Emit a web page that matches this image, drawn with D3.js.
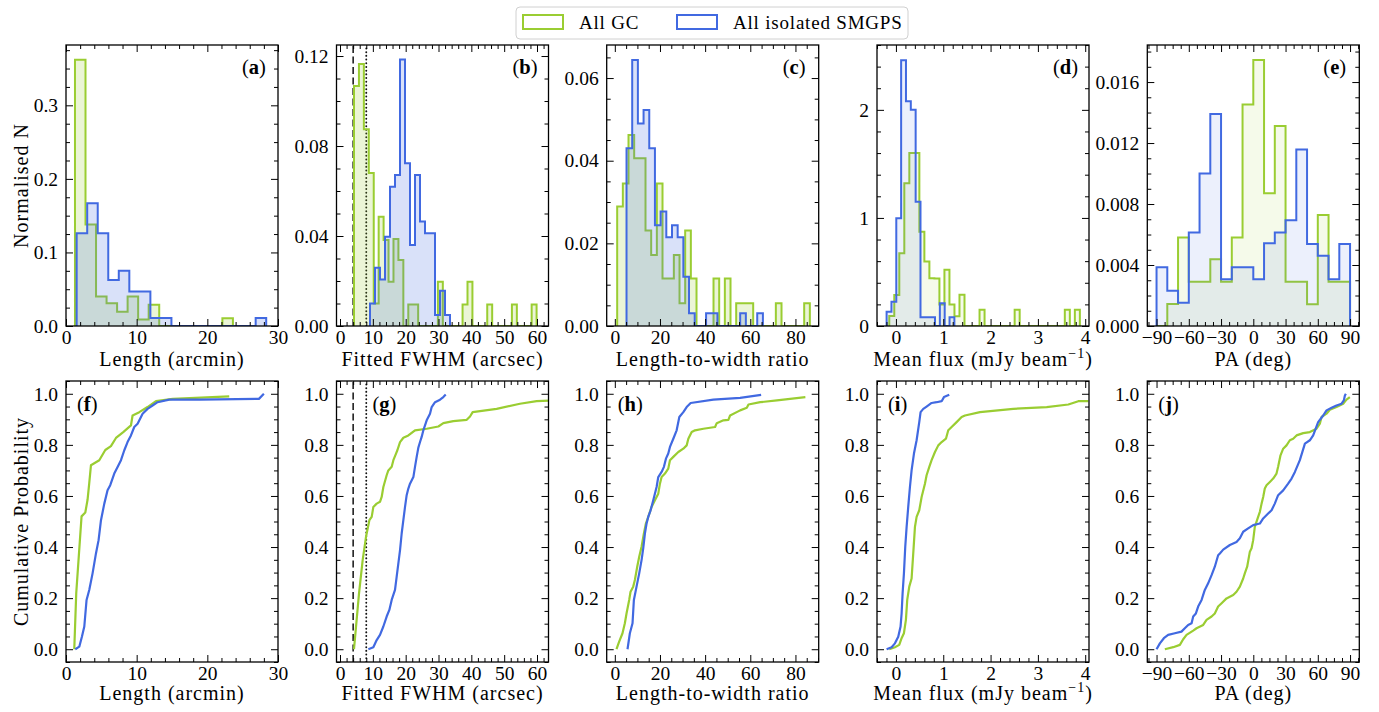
<!DOCTYPE html>
<html>
<head>
<meta charset="utf-8">
<script src="https://cdn.jsdelivr.net/npm/d3@7"></script>
<style>
  body { margin: 0; background: #fff; }
  svg text { font-family: "Liberation Serif", "DejaVu Serif", serif; fill: #000; }
</style>
</head>
<body>
<svg id="fig" width="1379" height="712"></svg>
<script>
// ---------------- data ----------------
const seriesNames = ["All GC", "All isolated SMGPS"];

// Normalised histograms: first bin edge, bin width, bar heights
const lenGC_start = 1.27, lenGC_width = 1.49;
const lenGC_hist = [0.362, 0.138, 0.040, 0.031, 0.0195, 0.040, 0.009, 0.029, 0, 0, 0, 0, 0, 0, 0.0104];
const lenSM_start = 1.51, lenSM_width = 1.49;
const lenSM_hist = [0.126, 0.167, 0.126, 0.0626, 0.075, 0.047, 0.047, 0.011, 0.011, 0, 0, 0, 0, 0, 0, 0, 0, 0.011];

const fwhmGC_start = 4.26, fwhmGC_width = 1.503;
const fwhmGC_hist = [0.1067, 0.1164, 0.0874, 0.068, 0.010, 0.0486, 0.0382, 0.0197, 0.0387, 0.0293,
  0, 0.0096, 0.0096, 0, 0, 0, 0, 0.0197, 0, 0,
  0, 0, 0.0096, 0.0197, 0, 0, 0, 0.0096, 0, 0,
  0, 0, 0.0096, 0, 0, 0, 0.0096];
const fwhmSM_start = 9.14, fwhmSM_width = 1.523;
const fwhmSM_hist = [0.01, 0.0259, 0.0207, 0.0397, 0.0619, 0.0671, 0.1185, 0.0723, 0.036, 0.0671,
  0.0464, 0.0412, 0.0412, 0.0049, 0.0157, 0.0049];

const ratioGC_start = 1.04, ratioGC_width = 2.51;
const ratioGC_hist = [0.0289, 0.0345, 0.0462, 0.0406, 0.0406, 0.0231, 0.0172, 0.0345, 0.0115, 0.0115,
  0.0172, 0.0055, 0.0231, 0.0115, 0, 0, 0, 0.0115, 0, 0.0115,
  0, 0.0055, 0.0055, 0.0055, 0, 0, 0, 0, 0.0055, 0,
  0, 0, 0, 0.0055];
const ratioSM_start = 5.18, ratioSM_width = 2.517;
const ratioSM_hist = [0.043, 0.0644, 0.049, 0.0523, 0.043, 0.0244, 0.0277, 0.0215, 0.0244, 0.0215,
  0.0119, 0.0031, 0, 0, 0.0031, 0.0031, 0, 0, 0, 0,
  0.0031, 0, 0, 0.0031];

const fluxGC_start = -0.141, fluxGC_width = 0.106;
const fluxGC_hist = [0.093, 0.287, 0.673, 1.32, 1.6, 1.6, 0.873, 0.596, 0.441, 0.44,
  0.2, 0.52, 0.2, 0.09, 0.29, 0, 0, 0, 0.15, 0,
  0, 0, 0, 0, 0, 0.15, 0, 0, 0, 0,
  0, 0, 0, 0, 0, 0.15, 0, 0.15];
const fluxSM_start = -0.197, fluxSM_width = 0.1023;
const fluxSM_hist = [0.133, 0.225, 0.997, 2.46, 2.08, 2.0, 1.15, 0.08, 0.08, 0.08, 0, 0.21, 0, 0.08];

const paGC_start = -90, paGC_width = 10;
const paGC_hist = [0, 0.00144, 0.0058, 0.0029, 0.0029, 0.00437, 0.0029, 0.0058, 0.01453, 0.01744,
  0.0087, 0.01311, 0.0029, 0.0029, 0.00142, 0.00728, 0.0029, 0.0029];
const paSM_start = -90, paSM_width = 10;
const paSM_hist = [0.00385, 0.00232, 0.00153, 0.00614, 0.0100, 0.0139, 0.00306, 0.00385, 0.00385, 0.00306,
  0.00542, 0.00614, 0.00693, 0.01158, 0.00538, 0.00461, 0.00306, 0.00538];

// Cumulative distributions: [value, cumulative probability]
const lenCdfGC = [[1.17,0],[1.45,0.22],[2.2,0.52],[2.73,0.535],[3.05,0.585],[3.29,0.65],[3.53,0.72],[4.71,0.74],
  [5.56,0.78],[6.36,0.795],[7.07,0.827],[8.1,0.85],[9.19,0.876],[9.42,0.915],[10.37,0.928],[11.54,0.948],
  [12.73,0.971],[15.1,0.98],[23.1,0.99]];
const lenCdfSM = [[1.31,0],[1.88,0.01],[2.26,0.05],[2.59,0.089],[2.91,0.193],[3.29,0.232],[3.76,0.297],[4.24,0.375],
  [4.61,0.427],[4.95,0.505],[5.42,0.57],[5.88,0.622],[6.26,0.642],[6.83,0.6875],[7.3,0.7135],[7.78,0.74],
  [8.25,0.779],[8.71,0.811],[9.19,0.837],[9.66,0.87],[10.13,0.883],[10.84,0.922],[11.54,0.941],[12.25,0.954],
  [12.96,0.967],[14.6,0.977],[18.85,0.977],[27.3,0.98],[28.0,1.0]];

const fwhmCdfGC = [[4.26,0],[5.79,0.219],[6.9,0.349],[7.92,0.44],[8.94,0.505],[9.65,0.518],[10.15,0.557],
  [11.17,0.57],[12.18,0.577],[12.69,0.596],[13.2,0.635],[14.21,0.681],[14.72,0.7],[15.74,0.714],[16.25,0.74],
  [17.06,0.766],[17.47,0.779],[18.28,0.811],[19.29,0.828],[20.81,0.837],[22.84,0.857],[26.4,0.863],
  [29.95,0.872],[31.47,0.885],[34.5,0.893],[38.6,0.898],[39.6,0.911],[40.4,0.928],[47.7,0.941],
  [54.8,0.961],[59.9,0.971],[64.5,0.974]];
const fwhmCdfSM = [[8.63,0],[10.15,0.008],[11.17,0.036],[12.18,0.056],[13.2,0.089],[14.21,0.128],[15.03,0.154],
  [15.74,0.193],[16.75,0.232],[17.26,0.284],[17.77,0.336],[18.28,0.388],[18.78,0.453],[19.29,0.505],
  [19.8,0.557],[20.3,0.603],[20.81,0.629],[21.32,0.648],[22.34,0.674],[22.84,0.714],[23.35,0.753],
  [23.86,0.789],[24.37,0.811],[24.87,0.831],[25.38,0.857],[26.4,0.896],[27.41,0.922],[27.92,0.948],
  [28.94,0.967],[30.46,0.977],[31.47,0.987],[32.2,0.997]];

const ratioCdfGC = [[0.74,0],[1.92,0.03],[3.4,0.0625],[4.44,0.1016],[5.18,0.14],[6.36,0.193],[6.96,0.225],
  [8.14,0.245],[8.88,0.271],[9.92,0.323],[10.8,0.362],[11.84,0.401],[12.87,0.453],[13.76,0.492],[14.8,0.518],
  [16.28,0.557],[17.76,0.583],[19.24,0.609],[19.98,0.648],[20.72,0.674],[22.2,0.6875],[23.67,0.707],
  [24.42,0.74],[25.9,0.753],[28.12,0.772],[30.34,0.785],[31.82,0.798],[32.56,0.824],[34.04,0.85],
  [35.52,0.857],[39.22,0.863],[44.4,0.87],[45.14,0.885],[48.1,0.896],[50.3,0.898],[51.05,0.915],
  [55.5,0.935],[58.46,0.945],[59.2,0.958],[64.4,0.967],[71.8,0.974],[84.4,0.987]];
const ratioCdfSM = [[5.62,0],[6.66,0.0625],[7.84,0.1016],[8.44,0.193],[9.62,0.245],[10.8,0.297],[11.84,0.349],
  [12.58,0.395],[13.32,0.453],[14.06,0.492],[14.8,0.518],[15.84,0.544],[17.02,0.583],[18.5,0.635],
  [19.24,0.674],[20.72,0.694],[21.75,0.714],[22.64,0.746],[23.67,0.766],[24.42,0.792],[25.9,0.824],
  [27.38,0.857],[28.57,0.909],[30.34,0.928],[31.82,0.948],[33.6,0.964],[43.65,0.977],[55.5,0.984],[64.8,0.996]];

const fluxCdfGC = [[-0.141,0],[-0.021,0.008],[0.07,0.017],[0.12,0.043],[0.169,0.0625],[0.211,0.115],[0.239,0.193],
  [0.282,0.245],[0.331,0.277],[0.366,0.375],[0.402,0.479],[0.437,0.518],[0.493,0.544],[0.543,0.596],
  [0.613,0.648],[0.648,0.681],[0.705,0.714],[0.754,0.74],[0.825,0.772],[0.895,0.798],[0.966,0.811],
  [1.057,0.824],[1.106,0.857],[1.177,0.87],[1.282,0.889],[1.388,0.909],[1.459,0.915],[1.776,0.928],
  [2.48,0.941],[3.186,0.948],[3.643,0.958],[3.854,0.971],[4.066,0.971]];
const fluxCdfSM = [[-0.197,0],[-0.091,0.008],[-0.021,0.023],[0.049,0.049],[0.098,0.089],[0.12,0.14],[0.141,0.219],
  [0.169,0.297],[0.197,0.401],[0.226,0.479],[0.26,0.557],[0.296,0.635],[0.331,0.7],[0.381,0.766],
  [0.437,0.818],[0.493,0.889],[0.521,0.928],[0.578,0.941],[0.648,0.95],[0.754,0.964],[0.86,0.967],
  [0.966,0.971],[1.015,0.987],[1.127,0.996]];

const paCdfGC = [[-82.3,0],[-74.5,0.008],[-68.3,0.017],[-65.2,0.039],[-62.1,0.056],[-55.9,0.073],[-52.8,0.082],
  [-46.6,0.095],[-43.5,0.115],[-38.8,0.128],[-35.8,0.14],[-32.7,0.167],[-29.5,0.18],[-24.9,0.199],
  [-18.7,0.212],[-15.6,0.225],[-12.5,0.245],[-9.4,0.277],[-7.9,0.297],[-5.7,0.323],[-3.2,0.382],
  [-1.6,0.395],[-0.1,0.427],[1.4,0.479],[4.5,0.518],[6.1,0.538],[7.7,0.57],[9.2,0.596],[10.7,0.629],
  [12.3,0.642],[15.4,0.655],[18.5,0.668],[21.6,0.6875],[23.1,0.714],[25.3,0.759],[27.8,0.785],
  [30.9,0.798],[34,0.818],[37.1,0.824],[40.2,0.837],[46.4,0.846],[52.6,0.85],[58.8,0.863],[61.9,0.883],
  [63.5,0.909],[68.1,0.922],[71.2,0.9375],[77.4,0.948],[83.6,0.961],[86.7,0.977],[89.8,0.987]];
const paCdfSM = [[-90,0],[-86.9,0.023],[-83.2,0.043],[-79.2,0.056],[-73,0.0625],[-66.8,0.069],[-63.7,0.082],
  [-60.6,0.095],[-57.4,0.1016],[-55.9,0.128],[-53.4,0.14],[-51.3,0.167],[-48.1,0.193],[-45.1,0.232],
  [-42,0.258],[-38.8,0.29],[-35.8,0.323],[-32.7,0.368],[-31.1,0.375],[-28,0.39],[-21.8,0.408],
  [-15.6,0.42],[-12.5,0.434],[-9.4,0.46],[-4.8,0.473],[-0.1,0.486],[6.1,0.492],[9.2,0.512],[13.8,0.531],
  [17,0.544],[20,0.57],[23.1,0.603],[27.8,0.622],[32.4,0.648],[35.6,0.668],[38.7,0.694],[43.3,0.74],
  [48,0.805],[52.6,0.818],[55.7,0.837],[60.3,0.889],[65,0.915],[68.1,0.935],[72.8,0.945],[77.4,0.954],
  [82.1,0.961],[84.2,0.974],[85.2,0.993],[86.1,1.0]];

// Reference widths marked in the FWHM panels (arcsec)
const fwhmRefLines = [4, 8];

// Axis text and ticks
const xLabels = ["Length (arcmin)", "Fitted FWHM (arcsec)", "Length-to-width ratio", "Mean flux (mJy beam", "PA (deg)"];
const histTags = ["a", "b", "c", "d", "e"];
const cdfTags = ["f", "g", "h", "i", "j"];
const xDomains = [[0, 30], [-1.07, 63.5], [-3.6, 90.3], [-0.40, 4.08], [-98.6, 98.6]];
const xMajor = [[0, 10, 20, 30], [0, 10, 20, 30, 40, 50, 60], [0, 20, 40, 60, 80], [0, 1, 2, 3, 4], [-90, -60, -30, 0, 30, 60, 90]];
const xMinorStep = [2, 2, 5, 0.2, 7.5];
const histYMax = [0.382, 0.1249, 0.068, 2.6, 0.01843];
const histYMajor = [[0, 0.1, 0.2, 0.3], [0, 0.04, 0.08, 0.12], [0, 0.02, 0.04, 0.06], [0, 1, 2], [0, 0.004, 0.008, 0.012, 0.016]];
const histYFormat = [".1f", ".2f", ".2f", "d", ".3f"];
const histYMinorStep = [0.025, 0.01, 0.005, 0.2, 0.001];
const cdfYMajor = [0, 0.2, 0.4, 0.6, 0.8, 1.0];
const cdfYMinorStep = 0.05;

// ---------------- layout ----------------
const GREEN = "#9acd32", BLUE = "#4169e1";
const TICK_FONT = 19.5, TITLE_FONT = 20, TAG_FONT = 20.5, LEGEND_FONT = 19;
const TITLE_SPACING = 1.0, LEGEND_SPACING = 0.8;
const panelW = 212, panelH = 281;
const colLeft = [66, 336.5, 606.7, 877, 1147.3];
const rowTop = [45, 381];
const fillAlpha = [0.2, 0.2, 0.2, 0.1, 0.1];
const cdfTagOffset = [11, 36, 11, 11, 11];

const columns = [
  { gc: [lenGC_start, lenGC_width, lenGC_hist], sm: [lenSM_start, lenSM_width, lenSM_hist], cgc: lenCdfGC, csm: lenCdfSM },
  { gc: [fwhmGC_start, fwhmGC_width, fwhmGC_hist], sm: [fwhmSM_start, fwhmSM_width, fwhmSM_hist], cgc: fwhmCdfGC, csm: fwhmCdfSM, refs: fwhmRefLines },
  { gc: [ratioGC_start, ratioGC_width, ratioGC_hist], sm: [ratioSM_start, ratioSM_width, ratioSM_hist], cgc: ratioCdfGC, csm: ratioCdfSM },
  { gc: [fluxGC_start, fluxGC_width, fluxGC_hist], sm: [fluxSM_start, fluxSM_width, fluxSM_hist], cgc: fluxCdfGC, csm: fluxCdfSM },
  { gc: [paGC_start, paGC_width, paGC_hist], sm: [paSM_start, paSM_width, paSM_hist], cgc: paCdfGC, csm: paCdfSM }
];

const svg = d3.select("#fig");

function minorTicks(domain, step, majors) {
  const out = [];
  const k0 = Math.ceil(domain[0] / step - 1e-9), k1 = Math.floor(domain[1] / step + 1e-9);
  for (let k = k0; k <= k1; k++) {
    const v = +(k * step).toFixed(6);
    if (!majors.some(m => Math.abs(m - v) < step * 1e-3)) out.push(v);
  }
  return out;
}

// Inward ticks on all four sides, labels on bottom and left only
function drawAxes(g, x, y, xMaj, xMinStep, yMaj, yMinStep, yFmt) {
  const [xa, xb] = x.range();
  const [yb, ya] = y.range();
  const xMin = minorTicks(x.domain(), xMinStep, xMaj);
  const yMin = minorTicks(y.domain(), yMinStep, yMaj);
  const style = sel => {
    sel.select(".domain").remove();
    sel.selectAll("line").attr("stroke", "#000").attr("stroke-width", 1);
    sel.selectAll("text").attr("font-size", TICK_FONT).attr("font-family", null).attr("fill", "#000");
  };
  g.append("g").attr("transform", `translate(0,${yb})`)
    .call(d3.axisBottom(x).tickValues(xMaj).tickSize(-7).tickPadding(3.7).tickFormat(d3.format("d"))).call(style);
  g.append("g").attr("transform", `translate(0,${yb})`)
    .call(d3.axisBottom(x).tickValues(xMin).tickSize(-4).tickFormat("")).call(style);
  g.append("g").attr("transform", `translate(0,${ya})`)
    .call(d3.axisTop(x).tickValues(xMaj).tickSize(-7).tickFormat("")).call(style);
  g.append("g").attr("transform", `translate(0,${ya})`)
    .call(d3.axisTop(x).tickValues(xMin).tickSize(-4).tickFormat("")).call(style);
  g.append("g").attr("transform", `translate(${xa},0)`)
    .call(d3.axisLeft(y).tickValues(yMaj).tickSize(-7).tickPadding(8).tickFormat(d3.format(yFmt))).call(style);
  g.append("g").attr("transform", `translate(${xa},0)`)
    .call(d3.axisLeft(y).tickValues(yMin).tickSize(-4).tickFormat("")).call(style);
  g.append("g").attr("transform", `translate(${xb},0)`)
    .call(d3.axisRight(y).tickValues(yMaj).tickSize(-7).tickFormat("")).call(style);
  g.append("g").attr("transform", `translate(${xb},0)`)
    .call(d3.axisRight(y).tickValues(yMin).tickSize(-4).tickFormat("")).call(style);
  g.append("rect").attr("x", xa).attr("y", ya).attr("width", xb - xa).attr("height", yb - ya)
    .attr("fill", "none").attr("stroke", "#000").attr("stroke-width", 1.3);
}

function panelTag(g, letter, px, py) {
  const t = g.append("text").attr("x", px).attr("y", py).attr("font-size", TAG_FONT);
  t.append("tspan").text("(");
  t.append("tspan").attr("font-weight", "bold").text(letter);
  t.append("tspan").text(")");
}

function xTitle(g, i, cx, by) {
  const t = g.append("text").attr("x", cx).attr("y", by).attr("text-anchor", "middle")
    .attr("font-size", TITLE_FONT).attr("letter-spacing", TITLE_SPACING);
  t.append("tspan").text(xLabels[i]);
  if (i === 3) {
    t.append("tspan").attr("font-size", 14).attr("dy", -8).text("\u22121");
    t.append("tspan").attr("dy", 8).text(")");
  }
}

function histPoints(start, width, heights) {
  return heights.map((h, k) => ({ e: start + k * width, h }));
}

// Dashed line at the first reference width, dotted at the second
function refLines(g, x, y, refs) {
  const dashes = ["7,3.5", "0.1,3.6"];
  const widths = [1.5, 1.9];
  refs.forEach((v, k) => {
    g.append("line").attr("x1", x(v)).attr("x2", x(v))
      .attr("y1", y.range()[0]).attr("y2", y.range()[1])
      .attr("stroke", "#111").attr("stroke-width", widths[k])
      .attr("stroke-linecap", k === 1 ? "round" : "butt")
      .attr("stroke-dasharray", dashes[k]);
  });
}

columns.forEach((col, i) => {
  const left = colLeft[i];
  const x = d3.scaleLinear().domain(xDomains[i]).range([left, left + panelW]);

  // ---- histogram row ----
  {
    const top = rowTop[0];
    const y = d3.scaleLinear().domain([0, histYMax[i]]).range([top + panelH, top]);
    const g = svg.append("g");
    const clipId = `clip-h${i}`;
    svg.append("clipPath").attr("id", clipId).append("rect")
      .attr("x", left).attr("y", top).attr("width", panelW).attr("height", panelH);
    const plot = g.append("g").attr("clip-path", `url(#${clipId})`);

    if (col.refs) refLines(plot, x, y, col.refs);

    [[col.gc, GREEN], [col.sm, BLUE]].forEach(([h, color]) => {
      const [start, width, heights] = h;
      const pts = histPoints(start, width, heights);
      const end = start + heights.length * width;
      const areaPts = pts.concat([{ e: end, h: heights[heights.length - 1] }]);
      plot.append("path").datum(areaPts)
        .attr("d", d3.area().curve(d3.curveStepAfter).x(d => x(d.e)).y0(y(0)).y1(d => y(d.h)))
        .attr("fill", color).attr("fill-opacity", fillAlpha[i]).attr("stroke", "none");
      const linePts = [{ e: start, h: 0 }].concat(pts).concat([{ e: end, h: 0 }]);
      plot.append("path").datum(linePts)
        .attr("d", d3.line().curve(d3.curveStepAfter).x(d => x(d.e)).y(d => y(d.h)))
        .attr("fill", "none").attr("stroke", color).attr("stroke-width", 2);
    });

    drawAxes(g, x, y, xMajor[i], xMinorStep[i], histYMajor[i], histYMinorStep[i], histYFormat[i]);
    panelTag(g, histTags[i], left + 176, top + 29);
    xTitle(g, i, left + panelW / 2, top + panelH + 40);
  }

  // ---- cumulative row ----
  {
    const top = rowTop[1];
    const y = d3.scaleLinear().domain([-0.05, 1.05]).range([top + panelH, top]);
    const g = svg.append("g");
    const clipId = `clip-c${i}`;
    svg.append("clipPath").attr("id", clipId).append("rect")
      .attr("x", left).attr("y", top).attr("width", panelW).attr("height", panelH);
    const plot = g.append("g").attr("clip-path", `url(#${clipId})`);

    if (col.refs) refLines(plot, x, y, col.refs);

    const line = d3.line().x(d => x(d[0])).y(d => y(d[1]));
    [[col.cgc, GREEN], [col.csm, BLUE]].forEach(([pts, color]) => {
      plot.append("path").datum(pts).attr("d", line)
        .attr("fill", "none").attr("stroke", color).attr("stroke-width", 2.2)
        .attr("stroke-linejoin", "round");
    });

    drawAxes(g, x, y, xMajor[i], xMinorStep[i], cdfYMajor, cdfYMinorStep, ".1f");
    panelTag(g, cdfTags[i], left + cdfTagOffset[i], top + 30);
    xTitle(g, i, left + panelW / 2, top + panelH + 38);
  }
});

// Row titles
svg.append("text").attr("transform", `translate(28,${rowTop[0] + panelH / 2}) rotate(-90)`)
  .attr("text-anchor", "middle").attr("font-size", TITLE_FONT).attr("letter-spacing", TITLE_SPACING)
  .text("Normalised N");
svg.append("text").attr("transform", `translate(28,${rowTop[1] + panelH / 2}) rotate(-90)`)
  .attr("text-anchor", "middle").attr("font-size", TITLE_FONT).attr("letter-spacing", TITLE_SPACING)
  .text("Cumulative Probability");

// Legend
{
  const lg = svg.append("g");
  lg.append("rect").attr("x", 516).attr("y", 7).attr("width", 392).attr("height", 32).attr("rx", 4)
    .attr("fill", "#fff").attr("stroke", "#d0d0d0").attr("stroke-width", 1);
  const items = [[seriesNames[0], GREEN, 523], [seriesNames[1], BLUE, 677]];
  items.forEach(([name, color, px]) => {
    lg.append("rect").attr("x", px).attr("y", 15).attr("width", 40).attr("height", 14)
      .attr("fill", "#fff").attr("stroke", color).attr("stroke-width", 2);
    lg.append("text").attr("x", px + 56).attr("y", 29).attr("font-size", LEGEND_FONT)
      .attr("letter-spacing", LEGEND_SPACING).text(name);
  });
}
</script>
</body>
</html>
